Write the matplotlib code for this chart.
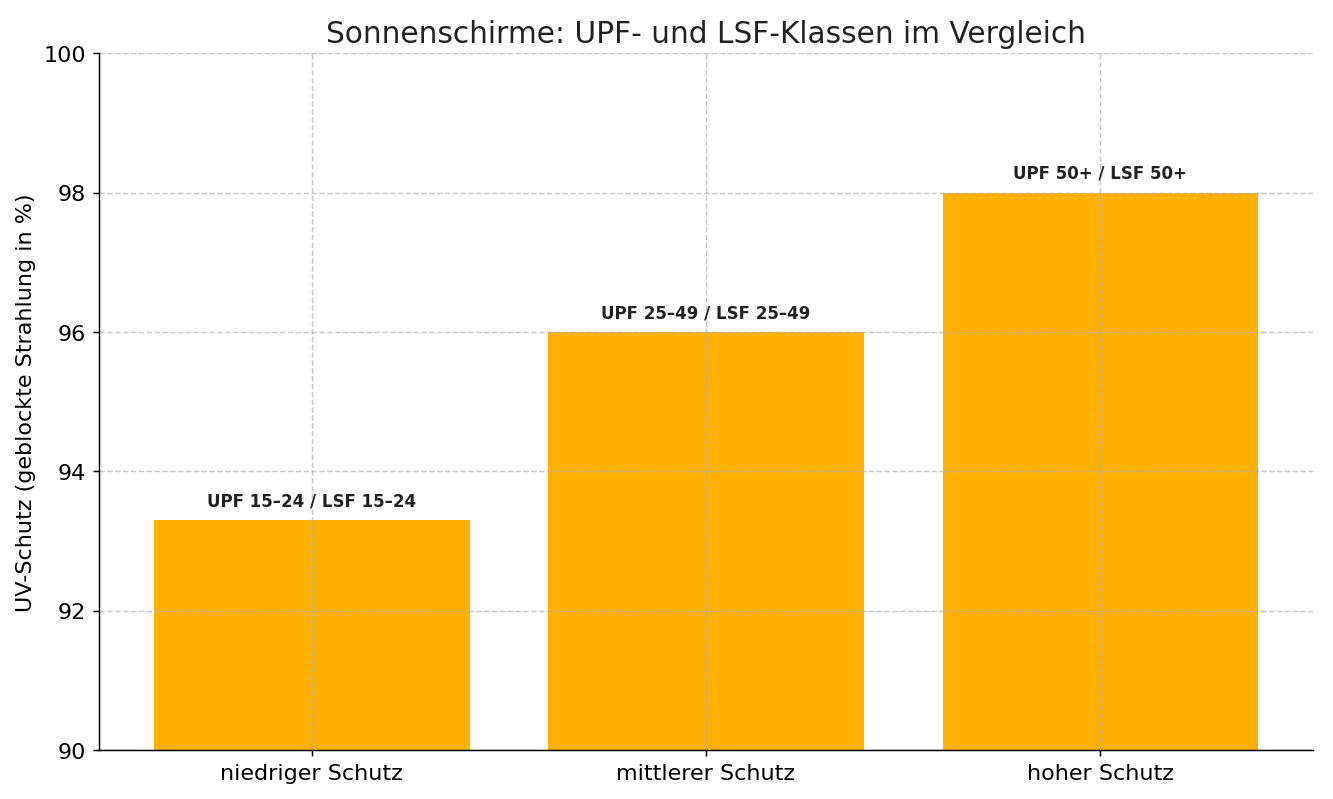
import matplotlib
matplotlib.use('Agg')
import matplotlib.pyplot as plt

# Data
categories = ['niedriger Schutz', 'mittlerer Schutz', 'hoher Schutz']
uv_schutz = [93.3, 96.0, 98.0]
bar_labels = ['UPF 15–24 / LSF 15–24', 'UPF 25–49 / LSF 25–49', 'UPF 50+ / LSF 50+']

fig, ax = plt.subplots(figsize=(10, 6), dpi=133.3)

bars = ax.bar(categories, uv_schutz, color='#FFB000', width=0.8)

for bar, text in zip(bars, bar_labels):
    ax.text(bar.get_x() + bar.get_width() / 2, bar.get_height() + 0.15, text,
            ha='center', va='bottom', fontsize=9, fontweight='bold', color='#222222')

ax.set_ylim(90, 100)
ax.set_title('Sonnenschirme: UPF- und LSF-Klassen im Vergleich', fontsize=16, color='#222222')
ax.set_ylabel('UV-Schutz (geblockte Strahlung in %)', fontsize=12)
ax.tick_params(labelsize=12)
ax.grid(True, linestyle='--', alpha=0.7)
ax.spines['top'].set_visible(False)
ax.spines['right'].set_visible(False)

plt.subplots_adjust(left=0.0743, right=0.985, top=0.9325, bottom=0.0612)
plt.savefig('out.png')
